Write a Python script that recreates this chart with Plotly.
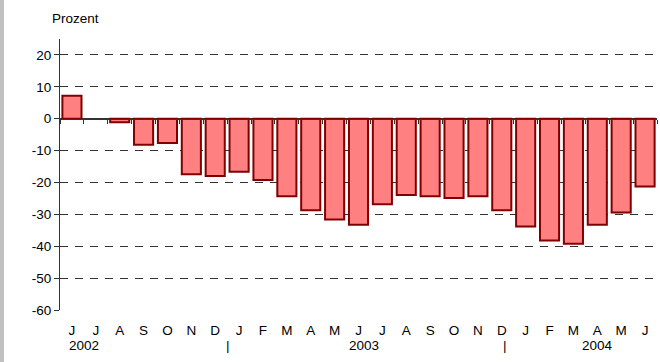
import plotly.graph_objects as go

months = ["J", "J", "A", "S", "O", "N", "D", "J", "F", "M", "A", "M", "J",
          "J", "A", "S", "O", "N", "D", "J", "F", "M", "A", "M", "J"]
values = [7.2, None, -1.1, -8.2, -7.6, -17.4, -18.0, -16.6, -19.2, -24.3, -28.7,
          -31.6, -33.3, -26.8, -23.9, -24.3, -24.9, -24.3, -28.7, -33.8, -38.2,
          -39.2, -33.3, -29.4, -21.3]
y_ticks = [20, 10, 0, -10, -20, -30, -40, -50, -60]
y_tick_labels = ["20", "10", "0", "-10", "-20", "-30", "-40", "-50", "-60"]
year_labels = ["2002", "|", "2003", "|", "2004"]
year_label_pos = [0.5, 6.53, 12.23, 18.13, 21.99]

idx = list(range(len(months)))
FONT = "Arial, Liberation Sans, sans-serif"
FS = 13.5

fig = go.Figure()
fig.add_trace(go.Bar(
    x=idx, y=values, width=0.8,
    marker=dict(color="#ff8080", line=dict(color="#800000", width=2)),
    hoverinfo="skip", showlegend=False,
))
# invisible trace for zero-line tick axis
fig.add_trace(go.Scatter(x=[idx[0]], y=[0], xaxis="x2", mode="markers",
                         marker=dict(opacity=0), showlegend=False, hoverinfo="skip"))

yr = [-60, 25]
fig.update_layout(
    width=660, height=362,
    margin=dict(l=60, r=3, t=39, b=52),
    paper_bgcolor="white", plot_bgcolor="white",
    font=dict(family=FONT, size=FS, color="black"),
    bargap=0.2,
    xaxis=dict(
        range=[-0.5, len(months) - 0.5],
        tickvals=idx, ticktext=months,
        showgrid=False, zeroline=False, showline=False,
        ticks="", ticklabelstandoff=10,
        tickfont=dict(size=FS, family=FONT),
    ),
    xaxis2=dict(
        overlaying="x", anchor="free", position=-yr[0] / (yr[1] - yr[0]),
        range=[-0.5, len(months) - 0.5],
        tickvals=[i - 0.5 for i in idx] + [len(months) - 0.5],
        showticklabels=False, ticks="outside", ticklen=4, tickcolor="#333",
        showline=True, linecolor="#333", linewidth=1,
        showgrid=False, zeroline=False,
    ),
    yaxis=dict(
        range=yr, tickvals=y_ticks, ticktext=y_tick_labels,
        showgrid=True, gridcolor="#333", griddash="8px,7px", gridwidth=1,
        zeroline=True, zerolinecolor="#333", zerolinewidth=1,
        showline=True, linecolor="#333", linewidth=1,
        ticks="outside", ticklen=5, tickcolor="#333",
        tickfont=dict(size=FS, family=FONT),
    ),
)

# grey strip at left edge
fig.add_shape(type="rect", xref="paper", yref="paper",
              x0=-60 / 597, x1=-56 / 597, y0=-52 / 271, y1=1 + 39 / 271,
              fillcolor="#c0c0c0", line=dict(width=0), layer="below")

fig.add_annotation(text="Prozent", xref="paper", yref="paper", x=-10 / 597, y=1,
                   xanchor="left", yanchor="middle", yshift=21, showarrow=False,
                   font=dict(size=FS, family=FONT))

for lab, pos in zip(year_labels, year_label_pos):
    fig.add_annotation(text=lab, x=pos, xref="x", y=0, yref="paper",
                       xanchor="center", yanchor="middle", yshift=-35,
                       showarrow=False, font=dict(size=FS, family=FONT))

fig.write_html("out.html", config={"displayModeBar": False},
               post_script="document.body.style.margin='0';document.body.style.overflow='hidden';")
